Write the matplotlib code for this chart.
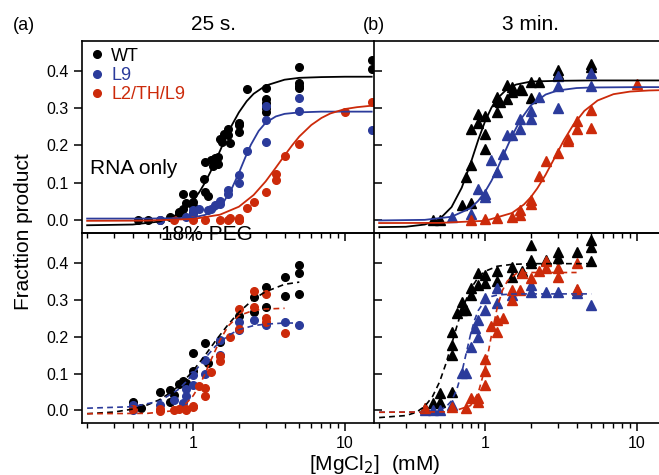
import matplotlib
matplotlib.use('Agg')
import matplotlib.pyplot as plt
from matplotlib.ticker import FixedLocator, LogLocator, NullFormatter, FuncFormatter

plt.rcParams['font.family'] = ['Liberation Sans', 'DejaVu Sans']

BLACK = 'black'
BLUE = '#2b3b9b'
RED = '#cc2a0a'

labels = ['WT', 'L9', 'L2/TH/L9']

# ---- (a) 25 s, RNA only : circles ----
wt_a_x = [0.43, 0.5, 0.6, 0.7, 0.8, 0.8, 0.86, 0.86, 0.9, 1.0, 1.0, 1.0, 1.0, 1.18, 1.2, 1.2, 1.25, 1.3, 1.35,
          1.4, 1.45, 1.45, 1.5, 1.55, 1.6, 1.7, 1.7, 1.75, 2.0, 2.0, 2.0, 2.25, 3, 3, 3, 3, 3, 5, 5, 5, 5, 15, 15]
wt_a_y = [0.0, 0.0, 0.0, 0.007, 0.017, 0.02, 0.03, 0.07, 0.044, 0.047, 0.038, 0.07, 0.02, 0.11, 0.155, 0.074, 0.065,
          0.16, 0.145, 0.165, 0.15, 0.17, 0.218, 0.209, 0.231, 0.245, 0.227, 0.207, 0.26, 0.255, 0.236, 0.352,
          0.355, 0.325, 0.315, 0.30, 0.29, 0.41, 0.367, 0.36, 0.355, 0.43, 0.405]
l9_a_x = [0.6, 0.9, 1.0, 1.0, 1.1, 1.25, 1.3, 1.4, 1.5, 1.5, 1.7, 1.7, 2.0, 2.0, 2.25, 3, 3, 3, 5, 5, 15]
l9_a_y = [0.0, 0.007, 0.016, 0.025, 0.028, 0.025, 0.03, 0.04, 0.043, 0.05, 0.07, 0.08, 0.1, 0.12, 0.186,
          0.305, 0.268, 0.209, 0.327, 0.294, 0.242]
red_a_x = [0.75, 1.0, 1.2, 1.5, 1.7, 1.75, 2.0, 2.0, 2.0, 2.25, 2.5, 3.0, 3.5, 3.5, 4.0, 5, 10, 15]
red_a_y = [0.0, 0.0, 0.0, 0.0, 0.0, 0.005, 0.0, 0.005, -0.002, 0.032, 0.047, 0.074, 0.124, 0.108, 0.171,
           0.205, 0.29, 0.317]

wt_a_fx = [0.2, 0.4, 0.6, 0.8, 0.9, 1.0, 1.1, 1.2, 1.3, 1.4, 1.5, 1.6, 1.8, 2.0, 2.25, 2.5, 3.0, 4.0, 5.0, 7.0, 10, 15]
wt_a_fy = [-0.015, -0.013, -0.005, 0.015, 0.031, 0.051, 0.075, 0.101, 0.129, 0.158, 0.185, 0.211, 0.255, 0.289,
           0.319, 0.339, 0.361, 0.377, 0.382, 0.384, 0.385, 0.385]
l9_a_fx = [0.2, 0.5, 0.8, 1.0, 1.2, 1.4, 1.6, 1.8, 2.0, 2.2, 2.4, 2.7, 3.0, 3.5, 4.0, 5.0, 7.0, 10, 15]
l9_a_fy = [0.003, 0.003, 0.004, 0.006, 0.013, 0.026, 0.050, 0.085, 0.126, 0.167, 0.202, 0.239, 0.261, 0.278,
           0.285, 0.289, 0.291, 0.291, 0.291]
red_a_fx = [0.2, 0.5, 1.0, 1.5, 2.0, 2.5, 3.0, 3.5, 4.0, 4.5, 5.0, 6.0, 7.0, 8.0, 10, 12, 15]
red_a_fy = [-0.003, -0.0025, 0.002, 0.0135, 0.035, 0.0665, 0.103, 0.140, 0.173, 0.201, 0.224, 0.255, 0.274,
            0.286, 0.298, 0.303, 0.307]

# ---- (b) 3 min, RNA only : triangles ----
wt_b_x = [0.45, 0.5, 0.7, 0.8, 0.75, 0.8, 0.8, 0.9, 0.9, 1.0, 1.0, 1.0, 1.2, 1.2, 1.2, 1.25, 1.4, 1.4, 1.5, 1.5,
          1.7, 1.75, 2.0, 2.0, 2.25, 3, 3, 5, 5]
wt_b_y = [0.0, 0.0, 0.04, 0.045, 0.115, 0.148, 0.245, 0.26, 0.285, 0.28, 0.23, 0.19, 0.32, 0.33, 0.29, 0.317,
          0.364, 0.325, 0.357, 0.345, 0.353, 0.35, 0.37, 0.327, 0.37, 0.402, 0.393, 0.42, 0.41]
l9_b_x = [0.6, 0.8, 0.9, 1.0, 1.0, 1.1, 1.2, 1.3, 1.4, 1.5, 1.7, 1.7, 2.0, 2.0, 2.25, 3, 3, 3, 5, 5]
l9_b_y = [0.007, 0.016, 0.083, 0.07, 0.06, 0.16, 0.128, 0.176, 0.227, 0.227, 0.244, 0.272, 0.294, 0.272, 0.33,
          0.386, 0.359, 0.3, 0.395, 0.359]
red_b_x = [0.8, 1.0, 1.2, 1.5, 1.7, 1.7, 2.0, 2.0, 2.25, 2.5, 3, 3.5, 3.5, 4, 4, 5, 5, 10]
red_b_y = [0.0, 0.003, 0.005, 0.007, 0.012, 0.027, 0.043, 0.052, 0.119, 0.157, 0.18, 0.218, 0.213, 0.245,
           0.266, 0.295, 0.248, 0.366]

wt_b_fx = [0.2, 0.3, 0.4, 0.5, 0.6, 0.7, 0.8, 0.9, 1.0, 1.1, 1.2, 1.4, 1.6, 2.0, 3.0, 5.0, 15]
wt_b_fy = [-0.020, -0.019, -0.013, 0.0015, 0.034, 0.086, 0.151, 0.215, 0.266, 0.302, 0.326, 0.353, 0.364,
           0.372, 0.374, 0.375, 0.375]
l9_b_fx = [0.2, 0.4, 0.6, 0.8, 0.9, 1.0, 1.1, 1.2, 1.33, 1.5, 1.7, 2.0, 2.5, 3.0, 4.0, 5.0, 10, 15]
l9_b_fy = [-0.002, -0.0004, 0.008, 0.031, 0.051, 0.076, 0.105, 0.137, 0.1775, 0.225, 0.268, 0.308, 0.337,
           0.348, 0.3545, 0.356, 0.357, 0.357]
red_b_fx = [0.2, 0.5, 1.0, 1.5, 1.8, 2.0, 2.2, 2.5, 2.9, 3.3, 3.8, 4.5, 5.5, 7.0, 9.0, 12, 15]
red_b_fy = [-0.009, -0.0086, -0.003, 0.018, 0.041, 0.061, 0.084, 0.121, 0.1705, 0.214, 0.255, 0.293, 0.321,
            0.338, 0.345, 0.348, 0.349]

# ---- (a) 25 s, 18% PEG : circles ----
wt_c_x = [0.4, 0.45, 0.6, 0.7, 0.7, 0.75, 0.8, 0.85, 0.9, 1.0, 1.0, 1.2, 1.25, 1.5, 2.0, 2.5, 2.5, 3, 3, 4, 4, 5, 5, 5]
wt_c_y = [0.024, 0.006, 0.049, 0.054, 0.022, 0.041, 0.072, 0.079, 0.074, 0.157, 0.106, 0.184, 0.128, 0.186,
          0.255, 0.307, 0.268, 0.336, 0.28, 0.361, 0.311, 0.395, 0.372, 0.316]
l9_c_x = [0.4, 0.4, 0.6, 0.75, 0.85, 0.9, 0.9, 1.0, 1.0, 1.2, 1.2, 1.5, 1.5, 2.0, 2.0, 2.5, 3.0, 4, 5]
l9_c_y = [0.015, 0.002, 0.015, 0.029, 0.02, 0.038, 0.058, 0.07, 0.097, 0.1, 0.136, 0.19, 0.151, 0.219, 0.241,
          0.244, 0.232, 0.24, 0.232]
red_c_x = [0.4, 0.6, 0.6, 0.75, 0.8, 0.9, 0.9, 1.0, 1.0, 1.1, 1.2, 1.2, 1.3, 1.5, 1.5, 1.75, 2.0, 2.0, 2.5, 2.5,
           3.0, 3.0, 3.0, 4]
red_c_y = [0.003, 0.003, -0.002, 0.002, 0.003, 0.002, 0.005, 0.013, 0.008, 0.065, 0.062, 0.04, 0.103, 0.135,
           0.148, 0.2, 0.275, 0.221, 0.325, 0.28, 0.316, 0.25, 0.241, 0.211]

wt_c_fx = [0.2, 0.3, 0.4, 0.5, 0.6, 0.7, 0.8, 0.9, 1.0, 1.2, 1.4, 1.7, 2.0, 2.5, 3.0, 4.0, 5.0]
wt_c_fy = [-0.009, -0.0045, 0.0035, 0.015, 0.029, 0.047, 0.066, 0.087, 0.108, 0.150, 0.188, 0.233, 0.266,
           0.302, 0.322, 0.342, 0.348]
l9_c_fx = [0.2, 0.4, 0.6, 0.8, 0.9, 1.0, 1.2, 1.4, 1.7, 2.0, 2.5, 3.0, 4.0, 5.0]
l9_c_fy = [0.006, 0.010, 0.025, 0.057, 0.078, 0.100, 0.142, 0.174, 0.203, 0.219, 0.230, 0.234, 0.237, 0.237]
red_c_fx = [0.2, 0.5, 0.7, 0.8, 0.9, 1.0, 1.1, 1.2, 1.3, 1.4, 1.5, 1.7, 2.0, 2.5, 3.0, 4.0]
red_c_fy = [-0.009, -0.008, -0.002, 0.006, 0.019, 0.040, 0.068, 0.100, 0.134, 0.163, 0.190, 0.229, 0.257,
            0.2715, 0.275, 0.277]

# ---- (b) 3 min, 18% PEG : triangles ----
wt_d_x = [0.4, 0.45, 0.5, 0.5, 0.6, 0.6, 0.6, 0.6, 0.65, 0.7, 0.7, 0.75, 0.8, 0.8, 0.9, 0.9, 1.0, 1.0, 1.2, 1.2,
          1.5, 1.5, 1.75, 2.0, 2.0, 2.0, 2.5, 3, 3, 4, 5, 5, 5]
wt_d_y = [0.006, 0.02, 0.024, 0.047, 0.051, 0.151, 0.178, 0.214, 0.264, 0.273, 0.295, 0.273, 0.314, 0.332,
          0.341, 0.372, 0.345, 0.368, 0.35, 0.377, 0.39, 0.363, 0.377, 0.449, 0.408, 0.4, 0.408, 0.431, 0.413,
          0.431, 0.463, 0.444, 0.406]
l9_d_x = [0.4, 0.45, 0.5, 0.6, 0.7, 0.75, 0.8, 0.85, 0.9, 0.9, 1.0, 1.0, 1.2, 1.2, 1.5, 2.0, 2.0, 2.5, 3, 4, 4, 5]
l9_d_y = [0.002, 0.002, 0.002, 0.015, 0.101, 0.101, 0.173, 0.223, 0.2, 0.246, 0.305, 0.273, 0.332, 0.291,
          0.314, 0.341, 0.322, 0.322, 0.32, 0.318, 0.326, 0.286]
red_d_x = [0.4, 0.6, 0.75, 0.8, 0.9, 0.9, 1.0, 1.0, 1.0, 1.1, 1.2, 1.2, 1.3, 1.5, 1.5, 1.7, 1.75, 2.0, 2.25,
           2.5, 2.5, 3, 3, 4, 4]
red_d_y = [0.006, 0.01, 0.006, 0.034, 0.024, 0.034, 0.07, 0.106, 0.139, 0.228, 0.214, 0.246, 0.25, 0.3, 0.327,
           0.327, 0.372, 0.359, 0.377, 0.404, 0.386, 0.386, 0.363, 0.4, 0.329]

wt_d_fx = [0.2, 0.3, 0.35, 0.4, 0.45, 0.5, 0.55, 0.6, 0.65, 0.7, 0.8, 0.9, 1.0, 1.2, 1.5, 2.0, 3.0, 5.0]
wt_d_fy = [-0.0195, -0.014, -0.0055, 0.011, 0.038, 0.077, 0.126, 0.179, 0.228, 0.271, 0.329, 0.361, 0.3775,
           0.391, 0.396, 0.398, 0.398, 0.398]
l9_d_fx = [0.2, 0.4, 0.5, 0.55, 0.6, 0.65, 0.7, 0.75, 0.8, 0.85, 0.9, 1.0, 1.1, 1.2, 1.5, 2.0, 5.0]
l9_d_fy = [-0.005, -0.0044, 0.0005, 0.009, 0.026, 0.057, 0.102, 0.1555, 0.2055, 0.2445, 0.271, 0.299, 0.309,
           0.313, 0.3157, 0.316, 0.316]
red_d_fx = [0.2, 0.6, 0.8, 0.9, 1.0, 1.05, 1.1, 1.2, 1.3, 1.4, 1.6, 2.0, 4.0]
red_d_fy = [-0.005, -0.004, 0.013, 0.048, 0.116, 0.160, 0.204, 0.279, 0.326, 0.351, 0.371, 0.374, 0.374]

XLIM = (0.185, 15.3)
YLIM = (-0.035, 0.482)
W, H = 659, 475

fig = plt.figure(figsize=(W / 100, H / 100), dpi=100)

def px_axes(left, top, right, bottom):
    return fig.add_axes([left / W, 1 - bottom / H, (right - left) / W, (bottom - top) / H])

ax_a1 = px_axes(82, 40.7, 373, 232.7)
ax_b1 = px_axes(374, 40.7, 665, 232.7)
ax_a2 = px_axes(82, 232.7, 373, 423.3)
ax_b2 = px_axes(374, 232.7, 665, 423.3)

for ax in (ax_a1, ax_b1, ax_a2, ax_b2):
    ax.patch.set_alpha(0)
    ax.set_xscale('log')
    ax.set_xlim(*XLIM)
    ax.set_ylim(*YLIM)
    ax.xaxis.set_major_locator(FixedLocator([1, 10]))
    ax.xaxis.set_minor_locator(LogLocator(base=10, subs=range(2, 10)))
    ax.xaxis.set_major_formatter(FuncFormatter(lambda v, p: f'{v:g}'))
    ax.xaxis.set_minor_formatter(NullFormatter())
    ax.set_yticks([0.0, 0.1, 0.2, 0.3, 0.4])
    for s in ax.spines.values():
        s.set_linewidth(1.2)
    ax.tick_params(which='major', length=6, width=1.1, labelsize=11.5, direction='out')
    ax.tick_params(which='minor', length=3.5, width=1.0)

for ax in (ax_a1, ax_b1):
    ax.tick_params(axis='x', labelbottom=False)
    ax.set_zorder(3)
for ax in (ax_a1, ax_a2):
    ax.spines['right'].set_visible(False)
for ax in (ax_b1, ax_b2):
    ax.tick_params(axis='y', labelleft=False, direction='in')

circ = dict(marker='o', ms=5.5, ls='none')
tri = dict(marker='^', ms=6.5, ls='none')
solid = dict(lw=1.3)
dash = dict(lw=1.2, ls=(0, (3.5, 2.5)))

# top-left
h1, = ax_a1.plot(wt_a_x, wt_a_y, color=BLACK, **circ)
h2, = ax_a1.plot(l9_a_x, l9_a_y, color=BLUE, **circ)
h3, = ax_a1.plot(red_a_x, red_a_y, color=RED, **circ)
ax_a1.plot(wt_a_fx, wt_a_fy, color=BLACK, **solid)
ax_a1.plot(l9_a_fx, l9_a_fy, color=BLUE, **solid)
ax_a1.plot(red_a_fx, red_a_fy, color=RED, **solid)

# top-right
ax_b1.plot(wt_b_x, wt_b_y, color=BLACK, **tri)
ax_b1.plot(l9_b_x, l9_b_y, color=BLUE, **tri)
ax_b1.plot(red_b_x, red_b_y, color=RED, **tri)
ax_b1.plot(wt_b_fx, wt_b_fy, color=BLACK, **solid)
ax_b1.plot(l9_b_fx, l9_b_fy, color=BLUE, **solid)
ax_b1.plot(red_b_fx, red_b_fy, color=RED, **solid)

# bottom-left
ax_a2.plot(wt_c_x, wt_c_y, color=BLACK, **circ)
ax_a2.plot(l9_c_x, l9_c_y, color=BLUE, **circ)
ax_a2.plot(red_c_x, red_c_y, color=RED, **circ)
ax_a2.plot(wt_c_fx, wt_c_fy, color=BLACK, **dash)
ax_a2.plot(l9_c_fx, l9_c_fy, color=BLUE, **dash)
ax_a2.plot(red_c_fx, red_c_fy, color=RED, **dash)

# bottom-right
ax_b2.plot(wt_d_x, wt_d_y, color=BLACK, **tri)
ax_b2.plot(l9_d_x, l9_d_y, color=BLUE, **tri)
ax_b2.plot(red_d_x, red_d_y, color=RED, **tri)
ax_b2.plot(wt_d_fx, wt_d_fy, color=BLACK, **dash)
ax_b2.plot(l9_d_fx, l9_d_fy, color=BLUE, **dash)
ax_b2.plot(red_d_fx, red_d_fy, color=RED, **dash)

ax_a1.legend([h1, h2, h3], labels, loc='upper left', bbox_to_anchor=(-0.015, 1.02), frameon=False,
             handlelength=0.9, handletextpad=0.35, labelspacing=0.12, borderaxespad=0.2,
             fontsize=13, labelcolor=[BLACK, BLUE, RED])

fig.text(90 / W, 1 - 168 / H, 'RNA only', fontsize=15, va='center', ha='left')
fig.text(207 / W, 1 - 234 / H, '18% PEG', fontsize=15, va='center', ha='center', zorder=10)
fig.text(24 / W, 1 - 25 / H, '(a)', fontsize=13, va='center', ha='center')
fig.text(374 / W, 1 - 25 / H, '(b)', fontsize=13, va='center', ha='center')
fig.text(214 / W, 1 - 25 / H, '25 s.', fontsize=15, va='center', ha='center')
fig.text(531 / W, 1 - 25 / H, '3 min.', fontsize=15, va='center', ha='center')
fig.text(24 / W, 1 - 232 / H, 'Fracttion product', fontsize=15, va='center', ha='center', rotation=90)
fig.text(375 / W, 1 - 464 / H, '[MgCl$_2$]  (mM)', fontsize=15, va='center', ha='center')

fig.savefig('out.png', dpi=100)
